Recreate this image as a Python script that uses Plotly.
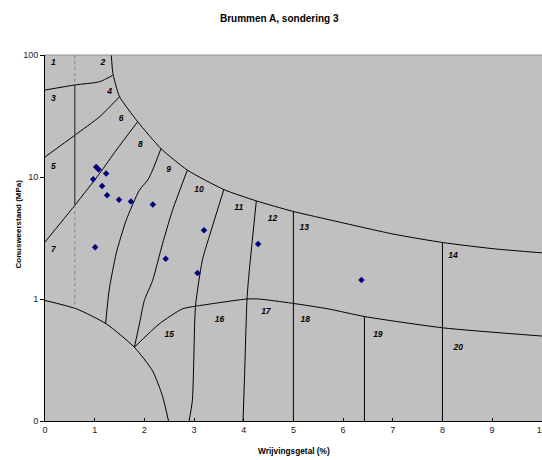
import plotly.graph_objects as go

# CPT sounding results: friction ratio (%) vs cone resistance (MPa)
friction_ratio = [1.03, 1.08, 1.23, 0.97, 1.15, 1.25, 1.49, 1.73, 2.17, 1.01, 2.43, 3.07, 3.20, 4.29, 6.37]
cone_resistance = [12.1, 11.5, 10.7, 9.6, 8.45, 7.1, 6.5, 6.3, 5.94, 2.65, 2.14, 1.63, 3.66, 2.82, 1.43]

# Soil classification zone boundaries (friction ratio, cone resistance)
upper_x = [1.334, 1.366, 1.434, 1.5, 1.866, 2.334, 2.866, 3.6, 4.254, 4.98, 5.7, 6.366, 7.034, 8.014, 9.034, 10.0]
upper_y = [100, 70.8, 55.0, 45.5, 28.4, 17.1, 11.4, 7.89, 6.37, 5.24, 4.48, 3.89, 3.39, 2.90, 2.58, 2.39]

b13_x = [0.0, 0.6, 1.1, 1.36]
b13_y = [51.6, 56.8, 60.4, 68.0]

b34_x = [0.0, 0.6, 1.1, 1.5]
b34_y = [14.6, 22.0, 31.2, 45.5]

b57_x = [0.0, 0.6, 1.1, 1.434, 1.866]
b57_y = [2.93, 5.86, 10.7, 16.6, 28.4]

b89_x = [2.334, 2.166, 2.066, 1.9, 1.634, 1.434, 1.3, 1.266, 1.22]
b89_y = [17.1, 11.4, 9.42, 7.80, 4.42, 2.37, 1.25, 0.973, 0.625]

b910_x = [2.866, 2.566, 2.366, 2.166, 2.0, 1.9, 1.8]
b910_y = [11.4, 5.33, 2.84, 1.42, 0.973, 0.625, 0.402]

b1011_x = [3.6, 3.366, 3.166, 3.034, 3.014, 2.966, 2.9]
b1011_y = [7.89, 3.89, 2.07, 0.914, 0.665, 0.147, 0.1]

b1112_x = [4.254, 4.166, 4.1, 4.066, 4.014, 3.986]
b1112_y = [6.37, 2.84, 1.51, 1.0, 0.214, 0.1]

b1213_x = [5.0, 5.0]
b1213_y = [5.2, 0.1]

b1314_x = [8.0, 8.0]
b1314_y = [2.90, 0.1]

b1819_x = [6.43, 6.43]
b1819_y = [0.718, 0.1]

lower_x = [1.8, 2.3, 2.766, 3.034, 4.066, 4.3, 4.966, 5.7, 6.434, 8.014, 10.0]
lower_y = [0.402, 0.625, 0.830, 0.873, 1.0, 1.0, 0.924, 0.830, 0.718, 0.580, 0.497]

base_x = [0.0, 0.634, 1.234, 1.8, 2.166, 2.366, 2.486]
base_y = [0.973, 0.830, 0.625, 0.402, 0.257, 0.160, 0.1]

# Divider at 0.6 %: dotted above/below, solid between the zone 3 and zone 7 borders
div_top_x = [0.6, 0.6]
div_top_y = [100, 56.8]
div_mid_x = [0.6, 0.6]
div_mid_y = [56.8, 5.86]
div_bot_x = [0.6, 0.6]
div_bot_y = [5.86, 0.83]

# Zone numbers and their positions
zone_labels = [str(i) for i in range(1, 21)]
zone_x = [0.166, 1.166, 0.166, 1.3, 0.166, 1.534, 0.166, 1.92, 2.486, 3.1,
          3.9, 4.58, 5.22, 8.214, 2.5, 3.514, 4.446, 5.24, 6.7, 8.32]
zone_y = [85.7, 85.7, 43.3, 50.0, 12.1, 29.9, 2.54, 18.5, 11.5, 7.89,
          5.57, 4.53, 3.82, 2.25, 0.508, 0.675, 0.779, 0.679, 0.504, 0.397]

x_ticks = list(range(0, 11))
x_ticktext = [str(v) for v in x_ticks]
y_ticks = [0.1, 1, 10, 100]
y_ticktext = ["0", "1", "10", "100"]

FONT = "Liberation Sans, Arial, sans-serif"

fig = go.Figure()

boundaries = [
    (upper_x, upper_y), (b13_x, b13_y), (b34_x, b34_y), (b57_x, b57_y),
    (b89_x, b89_y), (b910_x, b910_y), (b1011_x, b1011_y), (b1112_x, b1112_y),
    (b1213_x, b1213_y), (b1314_x, b1314_y), (b1819_x, b1819_y),
    (lower_x, lower_y), (base_x, base_y),
]
for bx, by in boundaries:
    fig.add_trace(go.Scatter(x=bx, y=by, mode="lines", line=dict(color="black", width=1, shape="spline", smoothing=0.6),
                             hoverinfo="skip", showlegend=False))

for bx, by in [(div_top_x, div_top_y), (div_bot_x, div_bot_y)]:
    fig.add_trace(go.Scatter(x=bx, y=by, mode="lines", line=dict(color="#808080", width=1, dash="dot"),
                             hoverinfo="skip", showlegend=False))
fig.add_trace(go.Scatter(x=div_mid_x, y=div_mid_y, mode="lines", line=dict(color="#404040", width=1.3),
                         hoverinfo="skip", showlegend=False))

fig.add_trace(go.Scatter(x=zone_x, y=zone_y, mode="text", text=zone_labels,
                         textfont=dict(family=FONT, size=8.5, color="black", weight="bold", style="italic"),
                         hoverinfo="skip", showlegend=False))

fig.add_trace(go.Scatter(x=friction_ratio, y=cone_resistance, mode="markers",
                         marker=dict(symbol="diamond", size=5, color="#000080"),
                         showlegend=False))

fig.update_layout(
    width=542, height=460,
    template="none",
    paper_bgcolor="white",
    plot_bgcolor="#C0C0C0",
    margin=dict(l=45, r=0, t=55, b=39),
    showlegend=False,
    font=dict(family=FONT, color="black"),
    annotations=[
        dict(text="<b>Brummen A, sondering 3</b>", xref="paper", yref="paper", x=0.471, y=1,
             yshift=37, showarrow=False, font=dict(family=FONT, size=10), xanchor="center", yanchor="middle"),
        dict(text="<b>Wrijvingsgetal (%)</b>", xref="paper", yref="paper", x=0.5, y=0,
             yshift=-30, showarrow=False, font=dict(family=FONT, size=8.3), xanchor="center", yanchor="middle"),
        dict(text="<b>Conusweerstand (MPa)</b>", xref="paper", yref="paper", x=0, y=0.5,
             xshift=-27, yshift=13.5, textangle=-90, showarrow=False, font=dict(family=FONT, size=8),
             xanchor="center", yanchor="middle"),
    ],
    shapes=[
        dict(type="line", xref="paper", yref="paper", x0=0, x1=1, y0=1, y1=1,
             line=dict(color="#909090", width=1)),
    ],
)

fig.update_xaxes(
    range=[0, 10.004], automargin=False, showgrid=False, zeroline=False,
    tickmode="array", tickvals=x_ticks, ticktext=x_ticktext,
    ticks="inside", ticklen=3, tickcolor="black", tickwidth=1,
    showline=True, linecolor="black", linewidth=1,
    ticklabeloverflow="allow",
    tickfont=dict(family=FONT, size=9, color="#222222"),
)
fig.update_yaxes(
    type="log", range=[-1, 2], automargin=False, showgrid=False, zeroline=False,
    tickmode="array", tickvals=y_ticks, ticktext=y_ticktext,
    ticks="outside", ticklen=4, tickcolor="black", tickwidth=1,
    showline=True, linecolor="black", linewidth=1,
    tickfont=dict(family=FONT, size=9, color="#222222"),
)

fig.write_html("out.html")
